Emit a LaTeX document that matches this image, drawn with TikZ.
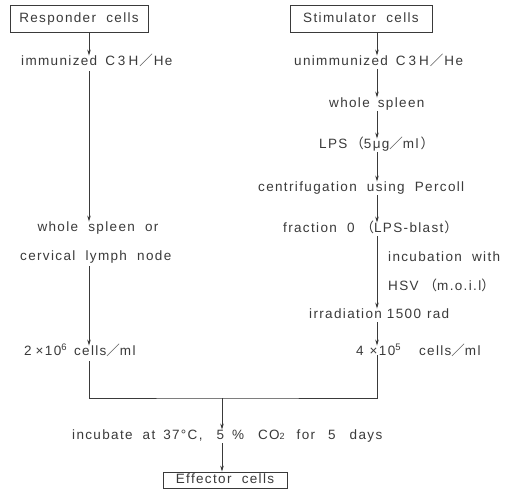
\documentclass[tikz,border=0pt]{standalone}
\usepackage{fontspec}
\setmainfont{Liberation Sans}[LetterSpace=10]
\newfontfamily\cjk{Noto Sans CJK JP}
\usetikzlibrary{arrows.meta}
\definecolor{ink}{HTML}{3A3A3A}
\tikzset{
  lbl/.style={inner sep=0pt, text height=10pt, text depth=2.5pt, font=\fontsize{13.5}{15}\selectfont, text=ink},
  boxnode/.style={lbl, draw=ink, line width=0.8pt, inner xsep=0pt, inner ysep=0pt},
  arr/.style={draw=ink, line width=0.8pt, -{Stealth[length=6pt,width=3.5pt]}},
  ln/.style={draw=ink, line width=0.8pt},
}
\newcommand{\fsl}{{\cjk ／}}
\newcommand{\flp}{{\cjk （}}
\newcommand{\frp}{{\cjk ）}}
\newcommand{\chh}{C\kern3pt 3\kern3pt H\kern1pt\fsl\kern1pt He}
\begin{document}
\begin{tikzpicture}[x=1pt,y=-1pt]
\useasboundingbox (0,0) rectangle (515,493);
\fill[white] (0,0) rectangle (515,493);
\coordinate (L) at (89,0);
\coordinate (R) at (377,0);
\coordinate (J) at (222,398);
% left column
\node[boxnode, minimum width=138pt, minimum height=27pt] (resp) at (79,18.5) {Responder\ \ cells};
\node[lbl, anchor=west] (imm) at (21,62) {immunized\hspace{8pt}\chh};
\node[lbl] (ws1) at (98,228) {whole\ \ spleen\ \ or};
\node[lbl, anchor=west] (cerv) at (20,257) {cervical\ \ lymph\ \ node};
\node[lbl, anchor=west] (c6) at (24,352) {2\hspace{4pt}×10\textsuperscript{6}\hspace{7pt}cells\fsl ml};
% right column
\node[boxnode, minimum width=142pt, minimum height=27pt] (stim) at (361,18.5) {Stimulator\ \ cells};
\node[lbl, anchor=west] (unimm) at (294,62) {unimmunized\hspace{8pt}\chh};
\node[lbl, anchor=west] (ws2) at (329,104) {whole\hspace{8pt}spleen};
\node[lbl, anchor=west] (lps) at (319,145) {LPS\hspace{3pt}\flp 5μg\fsl ml\hspace{2pt}\frp};
\node[lbl, anchor=west] (cent) at (258,188) {centrifugation\ \ using\ \ Percoll};
\node[lbl, anchor=west] (frac) at (283,229) {fraction\ \ 0\hspace{6pt}\flp LPS-blast\hspace{1pt}\frp};
\node[lbl, anchor=west] (incw) at (388,258) {incubation\ \ with};
\node[lbl, anchor=west] (hsv) at (388,287) {HSV\hspace{5pt}\flp m.o.i.l\frp};
\node[lbl, anchor=west] (irr) at (309,315) {irradiation\hspace{5pt}1500\hspace{6pt}rad};
\node[lbl, anchor=west] (c5) at (356,352) {4\hspace{6pt}×10\textsuperscript{5}\hspace{18pt}cells\fsl ml};
% bottom
\node[lbl, anchor=west] (inc) at (72,436) {incubate\hspace{10pt}at\hspace{8pt}37°C,\hspace{14pt}5\hspace{8pt}\%\hspace{14pt}CO{\fontsize{9}{10}\selectfont 2}\hspace{12pt}for\hspace{13pt}5\hspace{14pt}days};
\node[boxnode, minimum width=124pt, minimum height=16pt] (eff) at (225,480) {Effector\ \ cells};
% connectors
\draw[arr] (resp.south -| L) -- (imm.north -| L);
\draw[arr] (imm.south -| L) ++(0,3) -- (ws1.north -| L);
\draw[arr] (cerv.south -| L) ++(0,3) -- (c6.north -| L);
\draw[arr] (stim.south -| R) -- (unimm.north -| R);
\draw[arr] (unimm.south -| R) ++(0,1) -- (ws2.north -| R);
\draw[arr] (ws2.south -| R) ++(0,1) -- (lps.north -| R);
\draw[arr] (lps.south -| R) ++(0,1) -- (cent.north -| R);
\draw[arr] (cent.south -| R) ++(0,1) -- (frac.north -| R);
\draw[arr] (frac.south -| R) ++(0,1) -- (irr.north -| R);
\draw[arr] (irr.south -| R) ++(0,1) -- (c5.north -| R);
\draw[ln] (c6.south -| L) ++(0,3) |- (J) -| ([yshift=3pt]c5.south -| R);
\draw[arr] (J) -- (inc.north -| J);
\draw[arr] (inc.south -| J) ++(0,1) -- (eff.north -| J);
\end{tikzpicture}
\end{document}
